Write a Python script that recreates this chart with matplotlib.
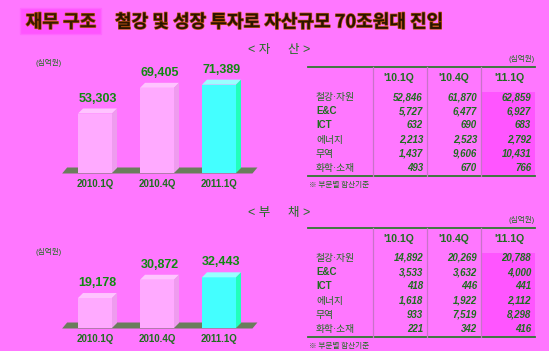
# 재무 구조 infographic — assets / liabilities, 3D-ish bars + segment tables
import numpy as np
import matplotlib
matplotlib.use("Agg")
import matplotlib.pyplot as plt
from matplotlib.patches import Polygon, Rectangle
import matplotlib.patheffects as pe

plt.rcParams['font.family'] = ['Liberation Sans', 'Noto Sans CJK KR', 'DejaVu Sans']

categories = ['2010.1Q', '2010.4Q', '2011.1Q']
assets = [53303, 69405, 71389]
liabilities = [19178, 30872, 32443]

table_cols = ["'10.1Q", "'10.4Q", "'11.1Q"]
segments = ['철강·자원', 'E&C', 'ICT', '에너지', '무역', '화학·소재']
asset_table = [[52846, 61870, 62859], [5727, 6477, 6927], [632, 690, 683],
               [2213, 2523, 2792], [1437, 9606, 10431], [493, 670, 766]]
liab_table = [[14892, 20269, 20788], [3533, 3632, 4000], [418, 446, 441],
              [1618, 1922, 2112], [933, 7519, 8298], [221, 342, 416]]

W, H = 549, 351
BG = '#FF77FF'
HILITE = '#FF55FF'
GREEN = '#118811'
DKGREEN = '#1F6E1F'

fig = plt.figure(figsize=(W / 100, H / 100), dpi=100, facecolor=BG)
ax = fig.add_axes([0, 0, 1, 1])
ax.set_xlim(0, W)
ax.set_ylim(H, 0)
ax.axis('off')


def px_axes(x0, y0, x1, y1):
    a = fig.add_axes([x0 / W, 1 - y1 / H, (x1 - x0) / W, (y1 - y0) / H])
    a.axis('off')
    a.patch.set_alpha(0)
    return a


# header
ax.add_patch(Rectangle((20, 8), 81, 26, fc=HILITE, ec='#FF66FF', lw=1))
stroke = [pe.withStroke(linewidth=1.0, foreground='#B85010')]
ax.text(61, 22, '재무 구조', fontsize=13, weight='bold', color='#3A1A00',
        ha='center', va='center', family=['Noto Sans CJK KR'], path_effects=stroke)
ax.text(115, 22, '철강 및 성장 투자로 자산규모 70조원대 진입', fontsize=13, weight='bold',
        color='#2A1400', ha='left', va='center', family=['Noto Sans CJK KR'],
        path_effects=stroke)


def bar_chart(vals, y_top, y_base, vmin, vmax, unit_y):
    a = px_axes(63, y_top, 263, y_base)
    a.set_xlim((63 - 95) / 62, (263 - 95) / 62)
    a.set_ylim(vmin, vmax)
    xpx = 62.0
    ypx = (y_base - y_top) / (vmax - vmin)
    dx, dy = 5 / xpx, 5 / ypx
    w = 34 / xpx
    x = np.arange(len(vals))
    fronts = ['#FFAAFF', '#FFAAFF', '#44FFFF']
    tops = ['#FFC4FF', '#FFC4FF', '#99FFFF']
    sides = ['#EE9CEE', '#EE9CEE', '#22FFBB']

    # ground slab
    g0, g1 = -0.53, 2.62
    gy = vmin + 2.5 / ypx
    gd = 6 / ypx
    a.add_patch(Polygon([(g0, gy - gd / 2), (g1 - 5 / xpx, gy - gd / 2),
                         (g1, gy + gd / 2), (g0 + 5 / xpx, gy + gd / 2)],
                        closed=True, fc='#6A7D5C', ec='none', clip_on=False, zorder=1))

    bars = a.bar(x, np.array(vals) - vmin, bottom=vmin, width=w, color=fronts,
                 edgecolor='none', zorder=3, clip_on=False)
    for i, b in enumerate(bars):
        x0, x1, v = b.get_x(), b.get_x() + b.get_width(), vals[i]
        a.add_patch(Polygon([(x0, v), (x1, v), (x1 + dx, v + dy), (x0 + dx, v + dy)],
                            fc=tops[i], ec='none', zorder=4, clip_on=False))
        a.add_patch(Polygon([(x1, vmin), (x1, v), (x1 + dx, v + dy), (x1 + dx, vmin + dy)],
                            fc=sides[i], ec='none', zorder=4, clip_on=False))
        a.annotate(f'{v:,}', xy=(x[i] + dx / 2, v + dy), xytext=(0, 4),
                   textcoords='offset pixels', ha='center', va='bottom',
                   fontsize=9, weight='bold', color=GREEN, annotation_clip=False)
        a.annotate(categories[i], xy=(x[i], vmin), xytext=(0, -11),
                   textcoords='offset pixels', ha='center', va='center',
                   fontsize=7, weight='bold', color=DKGREEN, annotation_clip=False)
    ax.text(35, unit_y, '(십억원)', fontsize=5.5, color=DKGREEN, ha='left', va='center')


def table(data, top):
    ax.text(535, top - 8, '(십억원)', fontsize=5.5, color=DKGREEN, ha='right', va='center')
    bottom = top + 109
    ax.add_patch(Rectangle((482, top + 25), 53, bottom - top - 25, fc=HILITE, ec='none'))
    ax.plot([308, 535], [top, top], color='#2E7A2E', lw=1.3)
    ax.plot([308, 535], [bottom, bottom], color='#2E7A2E', lw=1.3)
    for xv in [373, 427, 481]:
        ax.plot([xv, xv], [top, bottom], color='#C873C8', lw=0.9)
    for j, c in enumerate(table_cols):
        ax.text([399, 454, 509][j], top + 11, c, fontsize=7.5, weight='bold',
                color=DKGREEN, ha='center', va='center')
    for i, seg in enumerate(segments):
        yy = top + 30 + i * 14.2
        latin = seg.isascii()
        ax.text(316, yy, seg, fontsize=7, weight='bold' if latin else 'normal',
                color=DKGREEN, ha='left', va='center')
        for j, v in enumerate(data[i]):
            ax.text([423, 477, 531][j], yy, f'{v:,}', fontsize=7, weight='bold',
                    style='italic', color=DKGREEN, ha='right', va='center')
    ax.text(309, top + 118, '※ 부문별 합산기준', fontsize=5.5, color=DKGREEN,
            ha='left', va='center', family=['Noto Sans CJK KR', 'DejaVu Sans'])


# 자산
ax.text(270, 50, '< 자', fontsize=9, color=DKGREEN, ha='right', va='center')
ax.text(288, 50, '산 >', fontsize=9, color=DKGREEN, ha='left', va='center')
bar_chart(assets, 60, 173, 16000, 16000 + 113 * 627, 63)
table(asset_table, 67)

# 부채
ax.text(270, 213, '< 부', fontsize=9, color=DKGREEN, ha='right', va='center')
ax.text(288, 213, '채 >', fontsize=9, color=DKGREEN, ha='left', va='center')
bar_chart(liabilities, 228, 328, 0, 100 * 640, 252)
table(liab_table, 228)

fig.savefig('out.png', dpi=100, facecolor=BG)
